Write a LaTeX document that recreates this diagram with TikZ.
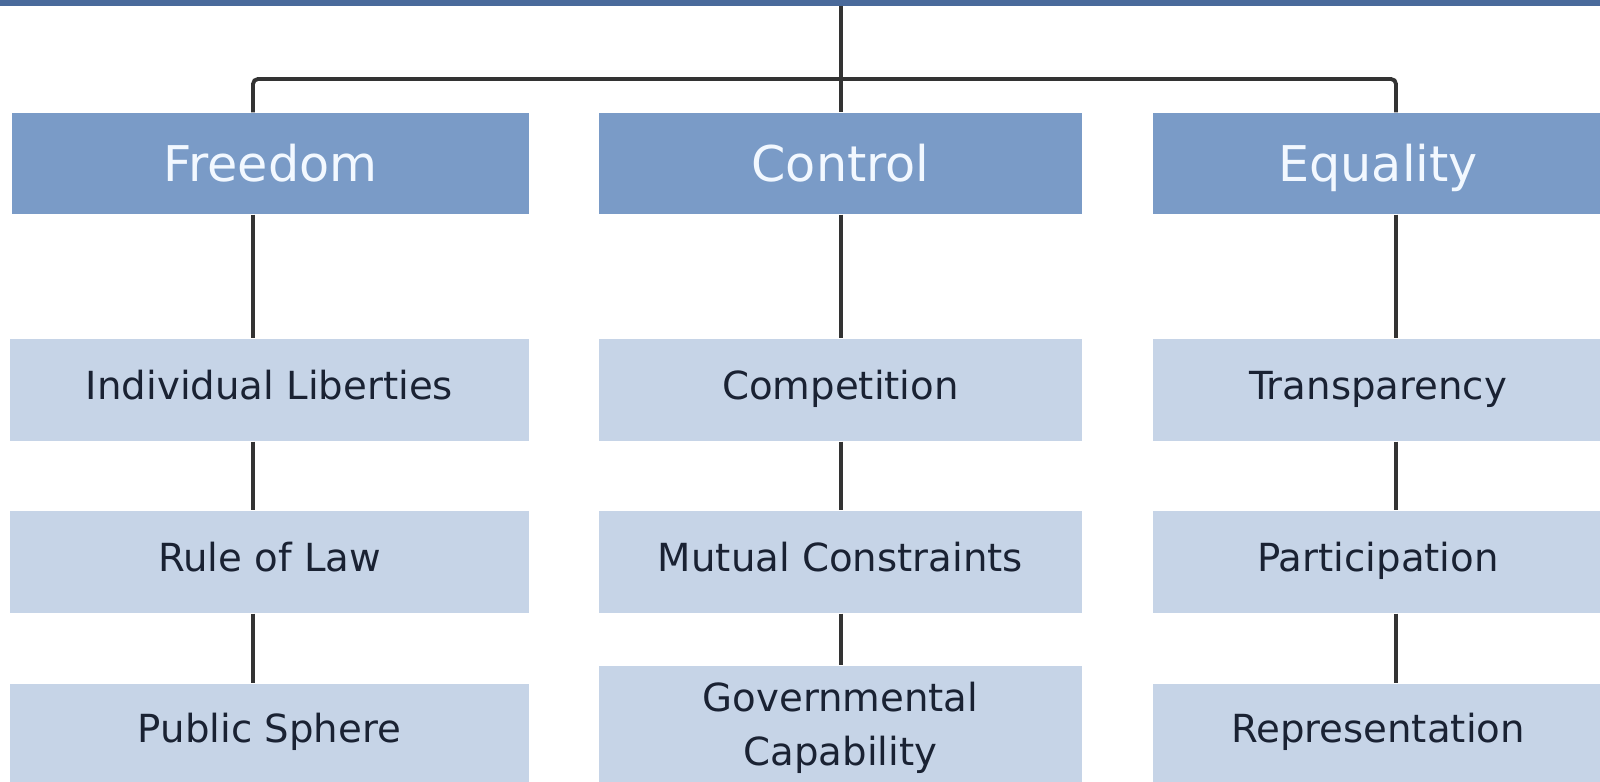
\documentclass[tikz,border=0pt]{standalone}
\usepackage{fontspec}
\setmainfont{DejaVu Sans}
\definecolor{barblue}{HTML}{4A6A9B}
\definecolor{headblue}{HTML}{7A9BC7}
\definecolor{cellblue}{HTML}{C6D4E7}
\definecolor{celltext}{HTML}{1A2233}
\definecolor{headtext}{HTML}{F2F8FF}
\definecolor{linkgray}{HTML}{333333}
\tikzset{
  head/.style={fill=headblue, text=headtext, inner sep=0pt, minimum height=1.01cm, text height=10pt, text depth=0pt, font=\fontsize{14}{16}\selectfont},
  cell/.style={fill=cellblue, text=celltext, inner sep=0pt, minimum height=1.02cm, text height=7.8pt, text depth=2.4pt, font=\fontsize{11}{15.5}\selectfont},
  twoline/.style={fill=cellblue, text=celltext, inner sep=0pt, align=center, font=\fontsize{11}{15.5}\selectfont},
  link/.style={draw=linkgray, line width=1.1pt}
}
\begin{document}
\begin{tikzpicture}[x=0.01cm,y=-0.01cm]
  \useasboundingbox (0,0) rectangle (1600,782);
  \clip (0,0) rectangle (1600,782);
  \fill[barblue] (0,0) rectangle (1600,6);
  \coordinate (top) at (841,6);
  \coordinate (fx) at (253,79);
  \coordinate (cx) at (841,79);
  \coordinate (ex) at (1396,79);
  \begin{scope}[every node/.style={head}]
    \node[minimum width=5.17cm] (freedom) at (270.5,163.5) {Freedom};
    \node[minimum width=4.83cm] (control) at (840.5,163.5) {Control};
    \node[minimum width=4.50cm] (equality) at (1378,163.5) {Equality};
  \end{scope}
  \begin{scope}[every node/.style={cell}]
    \node[minimum width=5.19cm] (liberties) at (269.5,390) {Individual Liberties};
    \node[minimum width=4.83cm] (competition) at (840.5,390) {Competition};
    \node[minimum width=4.50cm] (transparency) at (1378,390) {Transparency};
    \node[minimum width=5.19cm] (law) at (269.5,562) {Rule of Law};
    \node[minimum width=4.83cm] (constraints) at (840.5,562) {Mutual Constraints};
    \node[minimum width=4.50cm] (participation) at (1378,562) {Participation};
    \node[minimum width=5.19cm, minimum height=0.98cm] (sphere) at (269.5,733) {Public Sphere};
    \node[minimum width=4.50cm, minimum height=0.98cm] (representation) at (1378,733) {Representation};
  \end{scope}
  \node[twoline, minimum width=4.83cm, minimum height=1.24cm] (capability) at (840.5,728) {Governmental\\Capability};
  \draw[link] (top) -- (control.north -| cx);
  \draw[link, rounded corners=0.05cm] (freedom.north -| fx) -- (fx) -- (ex) -- (equality.north -| ex);
  \draw[link] (freedom.south -| fx) -- (liberties.north -| fx);
  \draw[link] (liberties.south -| fx) -- (law.north -| fx);
  \draw[link] (law.south -| fx) -- (sphere.north -| fx);
  \draw[link] (control.south -| cx) -- (competition.north -| cx);
  \draw[link] (competition.south -| cx) -- (constraints.north -| cx);
  \draw[link] (constraints.south -| cx) -- (capability.north -| cx);
  \draw[link] (equality.south -| ex) -- (transparency.north -| ex);
  \draw[link] (transparency.south -| ex) -- (participation.north -| ex);
  \draw[link] (participation.south -| ex) -- (representation.north -| ex);
\end{tikzpicture}
\end{document}
